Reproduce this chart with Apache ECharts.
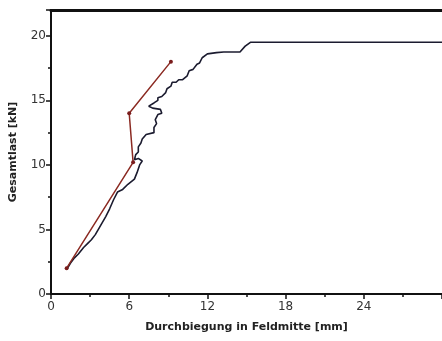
<!DOCTYPE html>
<html>
<head>
<meta charset="utf-8">
<script src="https://cdn.jsdelivr.net/npm/echarts@6/dist/echarts.min.js"></script>
<style>
  html, body { margin: 0; padding: 0; background: #fff; }
  #chart { width: 442px; height: 341px; }
</style>
</head>
<body>
<div id="chart"></div>
<script>
// Messkurve (schwarz): [Durchbiegung mm, Last kN]
const messkurve = [
  [1.2, 1.9], [1.5, 2.4], [1.8, 2.8], [2.1, 3.1], [2.5, 3.6], [2.8, 3.9],
  [3.1, 4.2], [3.4, 4.6], [3.8, 5.3], [4.2, 6.0], [4.5, 6.6], [4.8, 7.3],
  [5.1, 7.9], [5.5, 8.1], [5.9, 8.5], [6.4, 8.9], [6.6, 9.4], [6.8, 10.0],
  [7.0, 10.3], [6.7, 10.5], [6.4, 10.4], [6.5, 10.8], [6.7, 11.0], [6.7, 11.4],
  [6.9, 11.7], [7.0, 12.0], [7.3, 12.35], [7.9, 12.5], [7.9, 12.9], [8.1, 13.2],
  [8.0, 13.5], [8.2, 13.9], [8.5, 14.0], [8.4, 14.3], [7.8, 14.4], [7.5, 14.55],
  [7.9, 14.8], [8.2, 15.0], [8.2, 15.2], [8.5, 15.3], [8.8, 15.6], [8.9, 15.9],
  [9.2, 16.1], [9.3, 16.4], [9.6, 16.4], [9.8, 16.6], [10.1, 16.6], [10.45, 16.9],
  [10.6, 17.3], [10.9, 17.4], [11.2, 17.8], [11.4, 17.9], [11.6, 18.3],
  [12.0, 18.6], [12.7, 18.7], [13.25, 18.75], [14.5, 18.75], [14.9, 19.2],
  [15.3, 19.5], [30, 19.5]
];

// Rechenkurve (rot)
const rechenkurve = [
  [1.2, 2.0], [6.3, 10.2], [6.0, 14.0], [9.2, 18.0]
];

const xTicks = [0, 6, 12, 18, 24];
const yTicks = [0, 5, 10, 15, 20];

const chart = echarts.init(document.getElementById("chart"));

const option = {
  animation: false,
  grid: { left: 50, right: 0, top: 10, bottom: 47 },
  xAxis: [
    {
      type: "value",
      min: 0,
      max: 30,
      interval: 6,
      name: "Durchbiegung in Feldmitte [mm]",
      nameLocation: "middle",
      nameGap: 28,
      nameTextStyle: { fontFamily: "DejaVu Sans", fontSize: 11, fontWeight: "bold", color: "#222" },
      axisLine: { lineStyle: { color: "#111", width: 2 } },
      axisTick: { length: 5, lineStyle: { color: "#111", width: 1.5 } },
      minorTick: { show: true, splitNumber: 2, length: 3, lineStyle: { color: "#111", width: 1.5 } },
      axisLabel: {
        showMaxLabel: false,
        margin: 7,
        fontFamily: "DejaVu Sans",
        fontSize: 12,
        color: "#333",
        formatter: (v) => (xTicks.includes(v) ? String(v) : "")
      },
      splitLine: { show: false }
    },
    {
      type: "value",
      position: "top",
      min: 0,
      max: 30,
      axisLine: { lineStyle: { color: "#111", width: 3 } },
      axisTick: { show: false },
      axisLabel: { show: false },
      splitLine: { show: false }
    }
  ],
  yAxis: {
    type: "value",
    min: 0,
    max: 22,
    interval: 5,
    name: "Gesamtlast [kN]",
    nameLocation: "middle",
    nameGap: 32,
    nameTextStyle: { fontFamily: "DejaVu Sans", fontSize: 11, fontWeight: "bold", color: "#222" },
    axisLine: { show: true, lineStyle: { color: "#111", width: 2 } },
    axisTick: { show: true, length: 5, lineStyle: { color: "#111", width: 1.5 } },
    minorTick: { show: true, splitNumber: 2, length: 3, lineStyle: { color: "#111", width: 1.5 } },
    axisLabel: {
      showMaxLabel: false,
      margin: 5,
      fontFamily: "DejaVu Sans",
      fontSize: 12,
      color: "#333",
      formatter: (v) => (yTicks.includes(v) ? String(v) : "")
    },
    splitLine: { show: false }
  },
  series: [
    {
      name: "Versuch",
      type: "line",
      data: messkurve,
      showSymbol: false,
      lineStyle: { color: "#1b1b2f", width: 1.6 },
      z: 3
    },
    {
      name: "Rechnung",
      type: "line",
      data: rechenkurve,
      symbol: "circle",
      symbolSize: 4,
      itemStyle: { color: "#7a1c1c" },
      lineStyle: { color: "#8b2a22", width: 1.5 },
      z: 4
    }
  ]
};

chart.setOption(option);
</script>
</body>
</html>
